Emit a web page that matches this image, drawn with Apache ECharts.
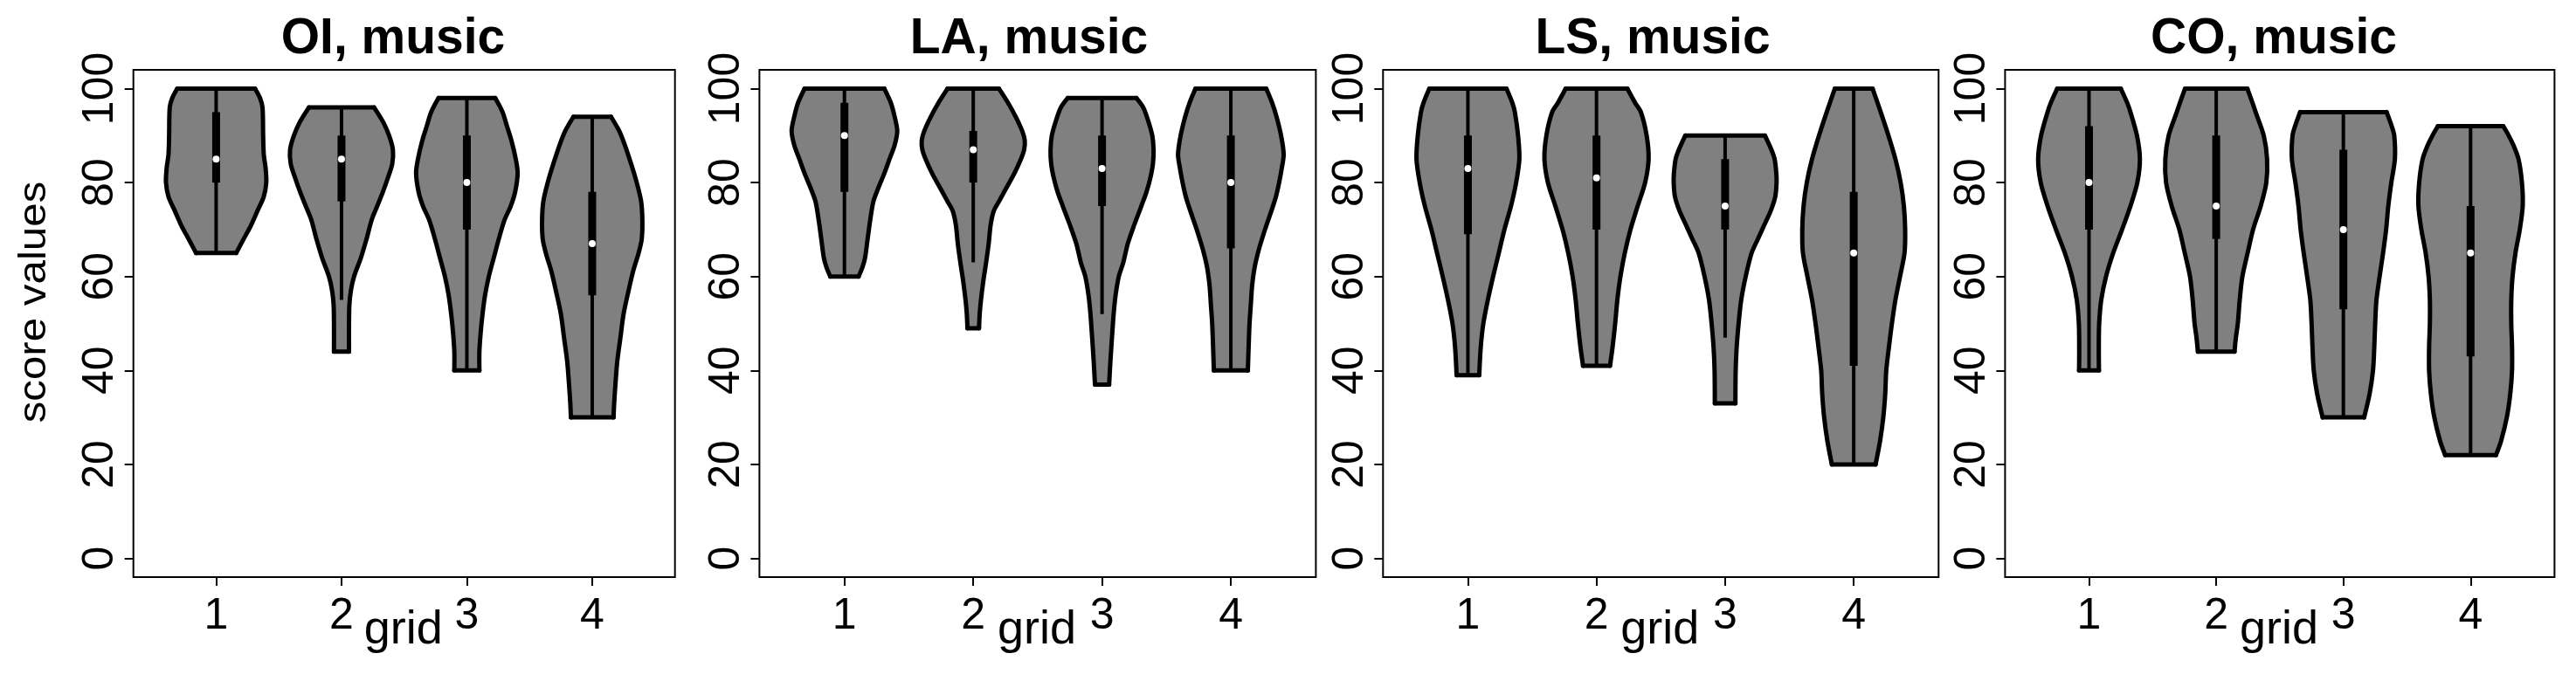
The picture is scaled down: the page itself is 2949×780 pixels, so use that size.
<!DOCTYPE html>
<html><head><meta charset="utf-8">
<script src="https://cdn.jsdelivr.net/npm/echarts@6/dist/echarts.min.js"></script>
<style>html,body{margin:0;padding:0;background:#fff}#c{width:2949px;height:780px}</style>
</head><body><div id="c"></div>
<script>
const FONT = '"Liberation Sans", Arial, Helvetica, sans-serif';

// ---------- data ----------
const categories = [1, 2, 3, 4];
const xTickLabels = ['1', '2', '3', '4'];
const yTickValues = [0, 20, 40, 60, 80, 100];
const panelTitles = ['OI, music', 'LA, music', 'LS, music', 'CO, music'];
const xAxisName = 'grid';
const yAxisName = 'score values';

// violin outlines: [score, half-width in x units], top to bottom
const shapeOI = [
  [[100,0.31],[98,0.35],[96,0.37],[90,0.375],[86,0.38],[83,0.395],[80,0.40],[77,0.38],[74,0.33],[71,0.28],[68,0.22],[65,0.16]],
  [[96,0.26],[93,0.33],[90,0.38],[87,0.41],[84,0.405],[81,0.37],[78,0.33],[75,0.285],[72,0.24],[68,0.2],[64,0.155],[60,0.10],[57,0.075],[54,0.063],[50,0.06],[44,0.06]],
  [[98,0.226],[95,0.285],[92,0.32],[89,0.355],[85,0.39],[82,0.405],[78,0.385],[75,0.35],[72,0.30],[68,0.255],[64,0.215],[60,0.175],[56,0.145],[52,0.125],[48,0.11],[44,0.1],[40,0.1]],
  [[94,0.15],[91,0.215],[88,0.26],[84,0.31],[80,0.355],[76,0.39],[72,0.40],[68,0.395],[65,0.37],[61,0.325],[57,0.29],[52,0.25],[47,0.225],[42,0.2],[37,0.185],[33,0.175],[30,0.17]]
];
const shapeLA = [
  [[100,0.31],[97,0.36],[94,0.39],[91,0.41],[88,0.39],[85,0.35],[82,0.31],[79,0.265],[76,0.225],[72,0.2],[68,0.18],[64,0.16],[62,0.14],[60,0.11]],
  [[100,0.2],[97,0.27],[94,0.33],[91,0.38],[89,0.40],[87,0.395],[85,0.37],[82,0.32],[79,0.26],[76,0.2],[74,0.16],[71,0.135],[67,0.12],[63,0.1],[59,0.078],[55,0.06],[52,0.05],[49,0.045]],
  [[98,0.267],[96,0.32],[93,0.36],[90,0.39],[87,0.40],[84,0.395],[81,0.375],[78,0.345],[75,0.305],[71,0.25],[67,0.2],[63,0.165],[60,0.13],[56,0.105],[52,0.09],[47,0.077],[42,0.065],[37,0.055]],
  [[100,0.275],[97,0.32],[94,0.355],[90,0.39],[86,0.41],[83,0.395],[80,0.375],[77,0.35],[74,0.315],[70,0.265],[66,0.22],[62,0.185],[58,0.165],[54,0.155],[50,0.145],[45,0.138],[40,0.132]]
];
const shapeLS = [
  [[100,0.30],[97,0.345],[95,0.365],[90,0.39],[85,0.40],[80,0.375],[75,0.335],[70,0.284],[65,0.24],[60,0.196],[55,0.155],[50,0.12],[45,0.1],[39,0.088]],
  [[100,0.24],[97,0.3],[95,0.345],[90,0.39],[85,0.405],[80,0.378],[75,0.32],[70,0.264],[65,0.22],[60,0.186],[55,0.162],[50,0.145],[45,0.125],[41,0.105]],
  [[90,0.31],[87,0.36],[85,0.385],[82,0.398],[80,0.40],[77,0.39],[74,0.355],[71,0.305],[68,0.255],[65,0.206],[60,0.16],[55,0.125],[50,0.105],[45,0.09],[40,0.082],[33,0.08]],
  [[100,0.147],[95,0.21],[90,0.27],[85,0.324],[80,0.365],[75,0.39],[70,0.40],[65,0.395],[60,0.36],[55,0.324],[50,0.297],[45,0.274],[40,0.253],[35,0.245],[30,0.23],[25,0.205],[20,0.17]]
];
const shapeCO = [
  [[100,0.25],[97,0.3],[95,0.326],[90,0.377],[85,0.40],[80,0.38],[75,0.326],[70,0.26],[65,0.19],[60,0.134],[55,0.096],[50,0.08],[45,0.077],[40,0.078]],
  [[100,0.245],[97,0.285],[95,0.31],[90,0.374],[85,0.40],[80,0.394],[75,0.35],[70,0.29],[65,0.247],[60,0.206],[55,0.185],[50,0.17],[47,0.155],[44,0.144]],
  [[95,0.34],[92,0.38],[90,0.40],[85,0.405],[80,0.377],[75,0.353],[70,0.336],[65,0.312],[60,0.285],[55,0.26],[50,0.25],[45,0.243],[40,0.233],[35,0.206],[30,0.163]],
  [[92,0.257],[90,0.3],[88,0.336],[85,0.377],[80,0.404],[75,0.41],[70,0.387],[65,0.353],[60,0.33],[55,0.32],[50,0.32],[45,0.326],[40,0.326],[35,0.312],[30,0.285],[25,0.24],[22,0.2]]
];

// box stats: [whisker low, q1, median, q3, whisker high]
const statsOI = [[65,80,85,95,100],[55,76,85,90,96],[40,70,80,90,98],[30,56,67,78,94]];
const statsLA = [[60,78,90,97,100],[63,80,87,91,100],[52,75,83,90,98],[40,66,80,90,100]];
const statsLS = [[39,69,83,90,100],[41,70,81,90,100],[47,70,75,85,90],[20,41,65,78,100]];
const statsCO = [[40,70,80,92,100],[44,68,75,90,100],[30,53,70,87,95],[22,43,65,75,92]];

const panelShapes = [shapeOI, shapeLA, shapeLS, shapeCO];
const panelStats = [statsOI, statsLA, statsLS, statsCO];

// ---------- layout ----------
const gridBoxes = [
  {left: 152.7, width: 620},
  {left: 869.4, width: 637},
  {left: 1583.3, width: 636},
  {left: 2295.4, width: 629}
];
const GRID_TOP = 80, GRID_H = 581;
const titleCenters = [450, 1178, 1892, 2603];

function makeRender(shapes, stats) {
  return function (params, api) {
    const i = params.dataIndex;
    const cx = api.value(0);
    const prof = shapes[i];
    const right = prof.map(p => api.coord([cx + p[1], p[0]]));
    const left = prof.map(p => api.coord([cx - p[1], p[0]])).reverse();
    const poly = right.concat(left);
    const s = stats[i];
    const pLow = api.coord([cx, s[0]]), pQ1 = api.coord([cx, s[1]]), pMed = api.coord([cx, s[2]]),
          pQ3 = api.coord([cx, s[3]]), pHigh = api.coord([cx, s[4]]);
    const stroke = {stroke: '#000', lineWidth: 5, fill: null, lineJoin: 'round', lineCap: 'round'};
    const n = left.length;
    return {
      type: 'group',
      children: [
        {type: 'polygon', shape: {points: poly}, style: {fill: '#808080', stroke: null}},
        {type: 'polyline', shape: {points: right, smooth: 0.3}, style: stroke},
        {type: 'polyline', shape: {points: left, smooth: 0.3}, style: stroke},
        {type: 'line', shape: {x1: left[n-1][0], y1: left[n-1][1], x2: right[0][0], y2: right[0][1]}, style: stroke},
        {type: 'line', shape: {x1: left[0][0], y1: left[0][1], x2: right[n-1][0], y2: right[n-1][1]}, style: stroke},
        {type: 'line', shape: {x1: pLow[0], y1: pLow[1], x2: pHigh[0], y2: pHigh[1]}, style: {stroke: '#000', lineWidth: 4}},
        {type: 'rect', shape: {x: pQ3[0] - 4.5, y: pQ3[1], width: 9, height: pQ1[1] - pQ3[1]}, style: {fill: '#000'}},
        {type: 'circle', shape: {cx: pMed[0], cy: pMed[1], r: 4}, style: {fill: '#fff'}}
      ]
    };
  };
}

const grids = [], xAxes = [], yAxes = [], series = [], graphics = [];
gridBoxes.forEach((g, k) => {
  grids.push({left: g.left, top: GRID_TOP, width: g.width, height: GRID_H, show: true,
    borderColor: '#000', borderWidth: 2, backgroundColor: 'transparent', containLabel: false, outerBoundsMode: 'none'});
  xAxes.push({
    type: 'value', gridIndex: k, min: 0.34, max: 4.66,
    axisLine: {show: false, onZero: false},
    splitLine: {show: false},
    axisTick: {show: true, length: 10, customValues: categories, lineStyle: {color: '#000', width: 2}},
    axisLabel: {show: true, customValues: categories, formatter: v => xTickLabels[categories.indexOf(v)],
      fontSize: 50, color: '#000', fontFamily: FONT, margin: 20}
  });
  yAxes.push({
    type: 'value', gridIndex: k, min: -4, max: 104,
    axisLine: {show: false, onZero: false},
    splitLine: {show: false},
    axisTick: {show: true, length: 10, customValues: yTickValues, lineStyle: {color: '#000', width: 2}},
    axisLabel: {show: true, customValues: yTickValues, rotate: 90, fontSize: 50, color: '#000', fontFamily: FONT, margin: 12}
  });
  series.push({
    type: 'custom', xAxisIndex: k, yAxisIndex: k,
    data: categories.map((c, i) => [c, panelStats[k][i][2]]),
    encode: {x: 0, y: 1},
    renderItem: makeRender(panelShapes[k], panelStats[k]),
    clip: false, silent: true
  });
  graphics.push({type: 'text', x: titleCenters[k], y: 45,
    style: {text: panelTitles[k], font: 'bold 57px ' + FONT, fill: '#000', align: 'center', verticalAlign: 'middle'}});
  graphics.push({type: 'text', x: g.left + g.width / 2 - 1, y: 722,
    style: {text: xAxisName, font: '54px ' + FONT, fill: '#000', align: 'center', verticalAlign: 'middle'}});
});
graphics.push({type: 'text', x: 40, y: 346, rotation: Math.PI / 2, scaleX: 1.12,
  style: {text: yAxisName, font: '44px ' + FONT, fill: '#000', align: 'center', verticalAlign: 'middle'}});

const chart = echarts.init(document.getElementById('c'), null, {renderer: 'canvas'});
chart.setOption({
  backgroundColor: '#fff',
  animation: false,
  grid: grids, xAxis: xAxes, yAxis: yAxes, series: series, graphic: graphics
});
</script></body></html>
